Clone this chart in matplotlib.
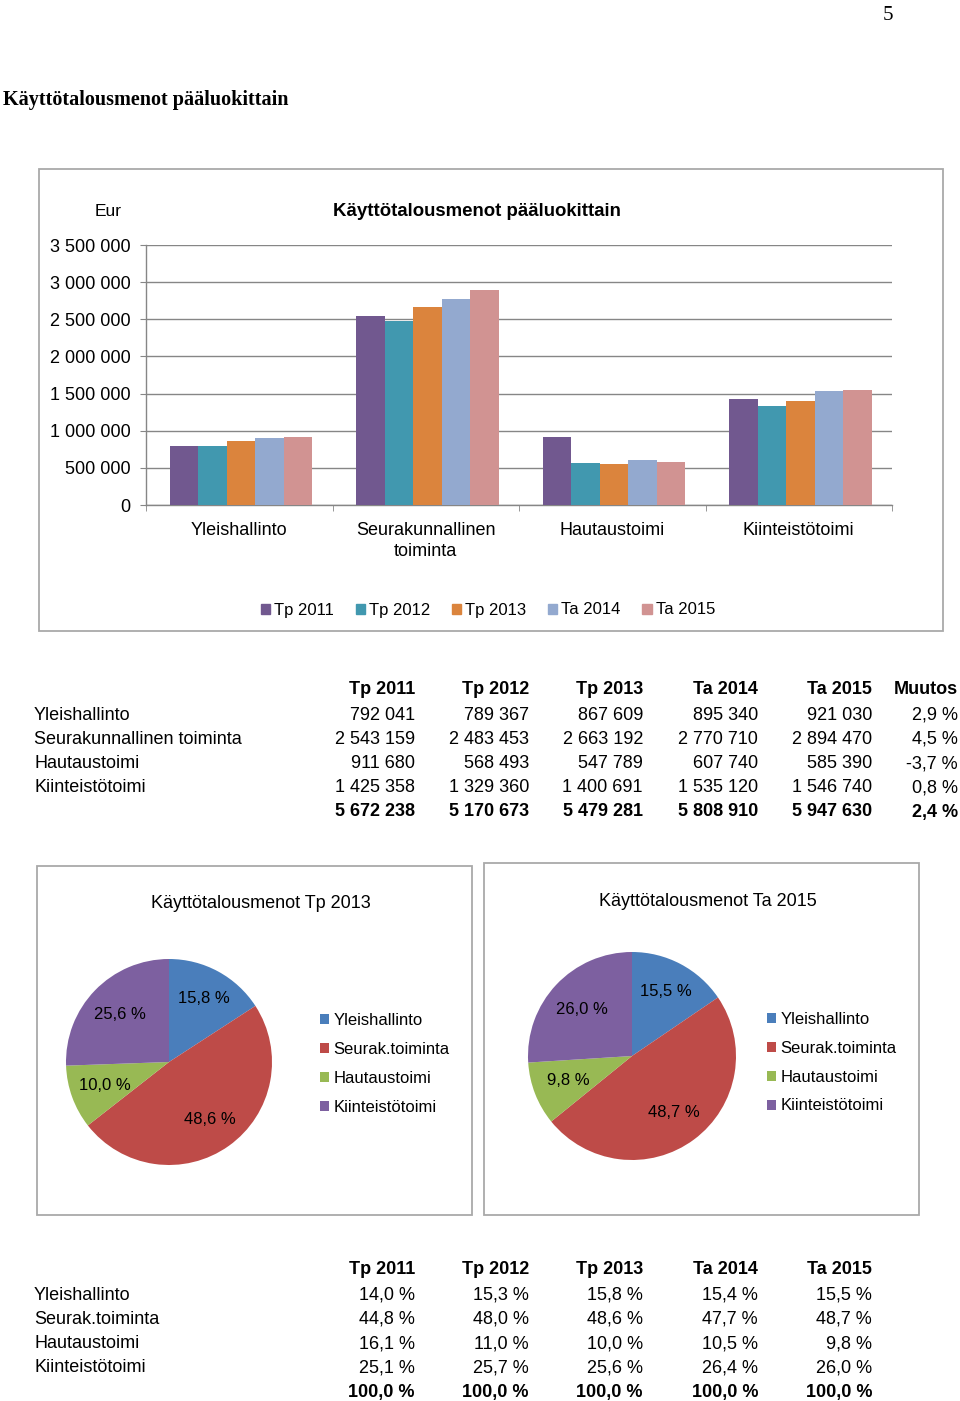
import matplotlib
matplotlib.use("Agg")
import matplotlib.pyplot as plt
from matplotlib.patches import Rectangle, Patch

plt.rcParams['font.family'] = ['Liberation Sans', 'DejaVu Sans']

# ---------------- data ----------------
categories = ["Yleishallinto", "Seurakunnallinen\ntoiminta", "Hautaustoimi", "Kiinteistötoimi"]
row_labels = ["Yleishallinto", "Seurakunnallinen toiminta", "Hautaustoimi", "Kiinteistötoimi"]
series_names = ["Tp 2011", "Tp 2012", "Tp 2013", "Ta 2014", "Ta 2015"]
tp2011 = [792041, 2543159, 911680, 1425358]
tp2012 = [789367, 2483453, 568493, 1329360]
tp2013 = [867609, 2663192, 547789, 1400691]
ta2014 = [895340, 2770710, 607740, 1535120]
ta2015 = [921030, 2894470, 585390, 1546740]
totals = [5672238, 5170673, 5479281, 5808910, 5947630]
muutos = ["2,9 %", "4,5 %", "-3,7 %", "0,8 %"]
muutos_total = "2,4 %"
yticks = [0, 500000, 1000000, 1500000, 2000000, 2500000, 3000000, 3500000]

pie_labels = ["Yleishallinto", "Seurak.toiminta", "Hautaustoimi", "Kiinteistötoimi"]
pct_rows = ["Yleishallinto", "Seurak.toiminta", "Hautaustoimi", "Kiinteistötoimi"]
pct_ylei = ["14,0 %", "15,3 %", "15,8 %", "15,4 %", "15,5 %"]
pct_seur = ["44,8 %", "48,0 %", "48,6 %", "47,7 %", "48,7 %"]
pct_haut = ["16,1 %", "11,0 %", "10,0 %", "10,5 %", "9,8 %"]
pct_kiin = ["25,1 %", "25,7 %", "25,6 %", "26,4 %", "26,0 %"]
pct_total = ["100,0 %", "100,0 %", "100,0 %", "100,0 %", "100,0 %"]

bar_colors = ["#71588F", "#4198AF", "#DB843D", "#93A9CF", "#D19392"]
pie_colors = ["#4A7EBB", "#BE4B48", "#98B954", "#7D60A0"]
# per-slice label distance from centre (fraction of radius), as placed in the source
pct_dist = [0.70, 0.68, 0.66, 0.66]

W, H = 960, 1401
fig = plt.figure(figsize=(W / 100, H / 100), dpi=100)

def fx(x):
    return x / W

def fy(y):
    return 1 - y / H

def T(x, y, s, **kw):
    kw.setdefault("va", "center")
    return fig.text(fx(x), fy(y + 2), s, **kw)

def fmt(v):
    return f"{v:,}".replace(",", " ")

box_color = "#A9A9A9"

def box(x0, y0, x1, y1):
    fig.patches.append(Rectangle((fx(x0), fy(y1)), fx(x1) - fx(x0), fy(y0) - fy(y1),
                                 transform=fig.transFigure, fill=False,
                                 edgecolor=box_color, linewidth=1.3))

# page number & heading
T(888, 13, "5", family=["Liberation Serif"], fontsize=15, ha="center")
T(3, 98, "Käyttötalousmenot pääluokittain", family=["Liberation Serif"],
  fontsize=14.5, fontweight="bold", ha="left")

# ---------------- bar chart ----------------
box(39, 169, 943, 631)
ax = fig.add_axes([fx(146), fy(505), fx(892) - fx(146), fy(245) - fy(505)])
series = [tp2011, tp2012, tp2013, ta2014, ta2015]
bw = 0.153
xs = range(len(categories))
for i, (vals, col, name) in enumerate(zip(series, bar_colors, series_names)):
    ax.bar([x + (i - 2) * bw + 0.01 for x in xs], vals, width=bw, color=col, label=name, zorder=3)
ax.set_xlim(-0.5, 3.5)
ax.set_ylim(0, 3500000)
ax.set_yticks(yticks)
ax.set_yticklabels([fmt(v) for v in yticks], fontsize=13)
ax.set_xticks(list(xs))
ax.set_xticklabels(categories, fontsize=13, linespacing=1.3)
ax.set_xticks([-0.5, 0.5, 1.5, 2.5, 3.5], minor=True)
ax.tick_params(axis="x", which="major", length=0, pad=12)
ax.tick_params(axis="x", which="minor", length=4, color="#868686", direction="out")
ax.tick_params(axis="y", length=4, color="#868686", pad=7)
ax.grid(axis="y", color="#868686", linewidth=1.0, zorder=0)
for s in ["top", "right"]:
    ax.spines[s].set_visible(False)
for s in ["left", "bottom"]:
    ax.spines[s].set_color("#868686")
    ax.spines[s].set_linewidth(1.0)
T(108, 209, "Eur", fontsize=12.5, ha="center")
T(477, 210, "Käyttötalousmenot pääluokittain", fontsize=13.4, fontweight="bold", ha="center")
handles = [Patch(color=c) for c in bar_colors]
fig.legend(handles, series_names, loc="center", bbox_to_anchor=(fx(488), fy(610)),
           ncol=5, frameon=False, fontsize=12, handlelength=0.55, handleheight=0.55,
           handletextpad=0.25, columnspacing=1.3)

# ---------------- table 1 ----------------
col_x = [415, 529, 643, 758, 872, 958]
header = series_names + ["Muutos"]
for cx, h in zip(col_x, header):
    T(cx, 688, h, fontsize=13, fontweight="bold", ha="right")
row_y = [713, 737, 762, 786]
for r, (lab, yy) in enumerate(zip(row_labels, row_y)):
    T(34, yy, lab, fontsize=13, ha="left")
    for c, vals in enumerate(series):
        T(col_x[c], yy, fmt(vals[r]), fontsize=13, ha="right")
    T(col_x[5], yy, muutos[r], fontsize=13, ha="right")
for c, t in enumerate(totals):
    T(col_x[c], 810, fmt(t), fontsize=13, fontweight="bold", ha="right")
T(col_x[5], 810, muutos_total, fontsize=13, fontweight="bold", ha="right")

# ---------------- pies ----------------
def pct_fmt(p):
    return f"{p:.1f} %".replace(".", ",")

def draw_pie(vals, cx, cy, r, title, tx, ty, legx, legy, bx):
    box(*bx)
    pax = fig.add_axes([fx(cx - r), fy(cy + r), fx(2 * r), (2 * r) / H])
    wedges, _, autotexts = pax.pie(vals, colors=pie_colors, startangle=90, counterclock=False,
                                   autopct=pct_fmt, pctdistance=1.0,
                                   wedgeprops=dict(linewidth=0),
                                   textprops=dict(fontsize=12, color="black"))
    for t, d in zip(autotexts, pct_dist):
        px, py = t.get_position()
        t.set_position((px * d, py * d))
    pax.set_xlim(-1, 1)
    pax.set_ylim(-1, 1)
    pax.set_aspect("equal")
    T(tx, ty, title, fontsize=13, ha="center")
    fig.legend(wedges, pie_labels, loc="upper left", bbox_to_anchor=(fx(legx), fy(legy)),
               frameon=False, fontsize=12, handlelength=0.55, handleheight=0.55,
               handletextpad=0.25, labelspacing=0.83, borderpad=0, borderaxespad=0)

draw_pie(tp2013, 169, 1062, 103, "Käyttötalousmenot Tp 2013", 261, 901, 320, 1013,
         (37, 866, 472, 1215))
draw_pie(ta2015, 632, 1056, 104, "Käyttötalousmenot Ta 2015", 708, 899, 767, 1012,
         (484, 863, 919, 1215))

# ---------------- table 2 ----------------
col_x2 = [415, 529, 643, 758, 872]
for cx, h in zip(col_x2, series_names):
    T(cx, 1268, h, fontsize=13, fontweight="bold", ha="right")
pct_data = [pct_ylei, pct_seur, pct_haut, pct_kiin]
row_y2 = [1293, 1317, 1342, 1366]
for lab, yy, vals in zip(pct_rows, row_y2, pct_data):
    T(34, yy, lab, fontsize=13, ha="left")
    for cx, v in zip(col_x2, vals):
        T(cx, yy, v, fontsize=13, ha="right")
for cx, v in zip(col_x2, pct_total):
    T(cx, 1390, v, fontsize=13, fontweight="bold", ha="right")

fig.savefig("out.png", dpi=100, facecolor="white")
